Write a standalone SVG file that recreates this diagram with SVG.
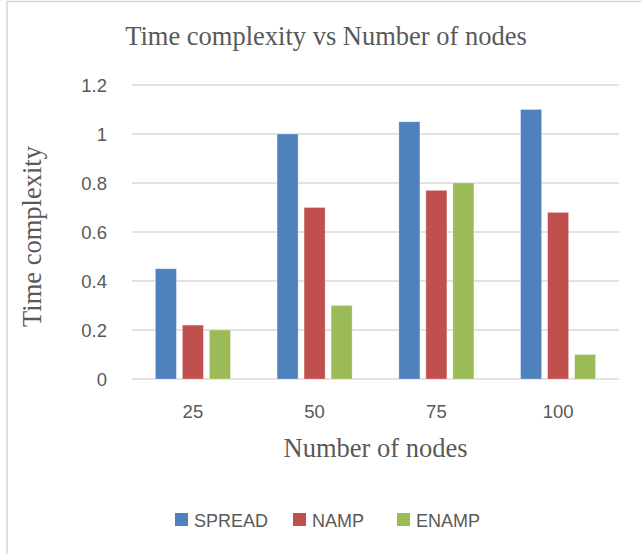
<svg xmlns="http://www.w3.org/2000/svg" width="642" height="554" viewBox="0 0 642 554">
  <style>
    .frame { fill: none; stroke: #d9d9d9; stroke-width: 1.6; }
    .grid { stroke: #d9d9d9; stroke-width: 1.5; }
    .title { font-family: "Liberation Serif", "Times New Roman", serif; font-size: 26.5px; fill: #595959; }
    .tick { font-family: "Liberation Sans", Arial, sans-serif; font-size: 18.5px; fill: #595959; }
    .legend { font-family: "Liberation Sans", Arial, sans-serif; font-size: 18px; fill: #595959; }
    .spread { fill: #4f81bd; }
    .namp { fill: #c0504d; }
    .enamp { fill: #9bbb59; }
    .bar { stroke: #ffffff; stroke-opacity: 0.35; stroke-width: 0.8; }
  </style>

  <rect width="642" height="554" fill="#ffffff"/>
  <!-- chart area border (left and top edges visible) -->
  <path class="frame" d="M7,560 V1.5 H650"/>

  <!-- chart title -->
  <text id="chart-title" class="title" x="326" y="45" text-anchor="middle">Time complexity vs Number of nodes</text>

  <!-- horizontal gridlines, 0 to 1.2 step 0.2 -->
  <g id="gridlines">
    <line class="grid" x1="132" y1="85" x2="619" y2="85"/>
    <line class="grid" x1="132" y1="134" x2="619" y2="134"/>
    <line class="grid" x1="132" y1="183" x2="619" y2="183"/>
    <line class="grid" x1="132" y1="232" x2="619" y2="232"/>
    <line class="grid" x1="132" y1="281" x2="619" y2="281"/>
    <line class="grid" x1="132" y1="330" x2="619" y2="330"/>
    <line class="grid" x1="132" y1="379" x2="619" y2="379"/>
  </g>

  <!-- value axis labels -->
  <g id="y-axis" class="tick" text-anchor="end">
    <text x="107" y="91.5">1.2</text>
    <text x="107" y="140.5">1</text>
    <text x="107" y="189.5">0.8</text>
    <text x="107" y="238.5">0.6</text>
    <text x="107" y="287.5">0.4</text>
    <text x="107" y="336.5">0.2</text>
    <text x="107" y="385.5">0</text>
  </g>
  <text id="y-title" class="title" transform="translate(41,236.5) rotate(-90)" text-anchor="middle">Time complexity</text>

  <!-- bars: 245 px per unit, baseline y=379 -->
  <g id="series-spread" class="spread bar">
    <rect x="155.4" y="268.75" width="21" height="110.25"/>
    <rect x="277.1" y="134" width="21" height="245"/>
    <rect x="398.9" y="121.75" width="21" height="257.25"/>
    <rect x="520.6" y="109.5" width="21" height="269.5"/>
  </g>
  <g id="series-namp" class="namp bar">
    <rect x="182.4" y="325.1" width="21" height="53.9"/>
    <rect x="304.1" y="207.5" width="21" height="171.5"/>
    <rect x="425.9" y="190.35" width="21" height="188.65"/>
    <rect x="547.6" y="212.4" width="21" height="166.6"/>
  </g>
  <g id="series-enamp" class="enamp bar">
    <rect x="209.4" y="330" width="21" height="49"/>
    <rect x="331.1" y="305.5" width="21" height="73.5"/>
    <rect x="452.9" y="183" width="21" height="196"/>
    <rect x="574.6" y="354.5" width="21" height="24.5"/>
  </g>

  <!-- category axis labels -->
  <g id="x-axis" class="tick" text-anchor="middle">
    <text x="192.9" y="417.5">25</text>
    <text x="314.6" y="417.5">50</text>
    <text x="436.4" y="417.5">75</text>
    <text x="558.1" y="417.5">100</text>
  </g>
  <text id="x-title" class="title" x="375.5" y="457" text-anchor="middle">Number of nodes</text>

  <!-- legend -->
  <g id="legend">
    <g id="legend-spread">
      <rect class="spread" x="175" y="513" width="13" height="13"/>
      <text class="legend" x="194" y="526.5">SPREAD</text>
    </g>
    <g id="legend-namp">
      <rect class="namp" x="293" y="513" width="13" height="13"/>
      <text class="legend" x="312" y="526.5">NAMP</text>
    </g>
    <g id="legend-enamp">
      <rect class="enamp" x="397" y="513" width="13" height="13"/>
      <text class="legend" x="416" y="526.5">ENAMP</text>
    </g>
  </g>
</svg>
